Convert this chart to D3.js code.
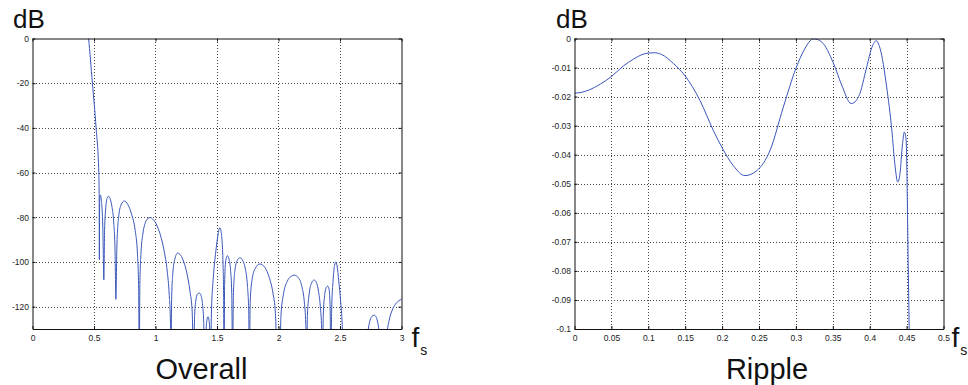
<!DOCTYPE html>
<html>
<head>
<meta charset="utf-8">
<script src="https://cdn.jsdelivr.net/npm/d3@7"></script>
<style>
  html, body { margin: 0; padding: 0; background: #fff; }
  svg { display: block; font-family: Arial, "Liberation Sans", sans-serif; }
</style>
</head>
<body>
<svg id="chart" width="968" height="385"></svg>
<script>
// ---------- DATA ----------
const overallXTicks = [0, 0.5, 1, 1.5, 2, 2.5, 3];
const overallYTicks = [0, -20, -40, -60, -80, -100, -120];
const overallF = [
  0.440, 0.456, 0.487, 0.517, 0.539, 0.542, 0.5435, 0.546, 0.552, 0.559, 0.572, 0.580, 0.586, 0.596,
  0.607, 0.618, 0.630, 0.645, 0.660, 0.671, 0.678, 0.686, 0.700, 0.720, 0.746, 0.775, 0.805, 0.835,
  0.853, 0.863, 0.868, 0.873, 0.882, 0.897, 0.917, 0.937, 0.957, 0.980, 1.010, 1.040, 1.070, 1.095,
  1.112, 1.122, 1.126, 1.131, 1.141, 1.157, 1.180, 1.205, 1.230, 1.255, 1.280, 1.298, 1.310, 1.318,
  1.330, 1.343, 1.356, 1.370, 1.383, 1.392, 1.397, 1.405, 1.412, 1.420, 1.427, 1.435, 1.442, 1.446,
  1.455, 1.470, 1.490, 1.505, 1.517, 1.524, 1.532, 1.541, 1.549, 1.554, 1.557, 1.562, 1.570, 1.584,
  1.598, 1.610, 1.620, 1.627, 1.633, 1.645, 1.665, 1.687, 1.710, 1.730, 1.748, 1.758, 1.763, 1.770,
  1.785, 1.810, 1.849, 1.890, 1.925, 1.955, 1.975, 1.990, 2.010, 2.020, 2.040, 2.070, 2.100, 2.128,
  2.160, 2.190, 2.210, 2.222, 2.229, 2.235, 2.250, 2.268, 2.290, 2.308, 2.325, 2.340, 2.351, 2.358,
  2.364, 2.375, 2.388, 2.400, 2.410, 2.419, 2.426, 2.432, 2.444, 2.456, 2.466, 2.476, 2.490, 2.505,
  2.518, 2.528, 2.700, 2.716, 2.730, 2.745, 2.760, 2.778, 2.795, 2.810, 2.825, 2.845, 2.865, 2.880,
  2.900, 2.925, 2.950, 2.975, 3.000
];
const overallDb = [
  8, 0, -20, -40, -60, -70, -99, -73, -70, -72, -85, -108, -86, -75.5,
  -71.5, -70.6, -71.5, -75, -82, -95, -116.7, -93, -80, -74.5, -72.7, -74.3, -78.5, -86,
  -96, -112, -145, -110, -96, -87.5, -82.5, -80.6, -80.1, -81, -83.5, -88, -95, -104,
  -115, -128, -145, -117, -105, -98.8, -96, -97, -100, -105, -113, -122, -145, -124,
  -116.5, -114.2, -113.9, -115, -119.5, -127, -145, -145, -130, -125.5, -124.5, -126, -132, -145,
  -122, -107, -95.5, -89, -85.3, -84.7, -86, -90.5, -101, -116, -145, -110, -100, -97.2,
  -98.8, -103.5, -114, -145, -115, -104, -99.3, -98.1, -99.5, -103, -111, -122, -145, -118,
  -108, -103, -100.9, -102.5, -107, -114, -123, -145, -145, -124, -114.5, -108.8, -106.5, -105.9,
  -107, -111, -118, -128, -145, -124, -114, -109.5, -108.1, -109.2, -113, -120, -130, -145,
  -124, -115, -111.5, -110.8, -112, -119, -145, -122, -108, -101.5, -100, -101.8, -108.5, -117.5,
  -128, -145, -145, -137, -130, -126, -124.3, -123.8, -124.8, -128, -134, -145, -145, -133,
  -126, -121.5, -119, -117.5, -116.7
];

const rippleXTicks = [0, 0.05, 0.1, 0.15, 0.2, 0.25, 0.3, 0.35, 0.4, 0.45, 0.5];
const rippleYTicks = [0, -0.01, -0.02, -0.03, -0.04, -0.05, -0.06, -0.07, -0.08, -0.09, -0.1];
const rippleF = [
  0, 0.010, 0.020, 0.035, 0.050, 0.066, 0.080, 0.090, 0.100, 0.108, 0.118, 0.134, 0.149, 0.170,
  0.188, 0.200, 0.215, 0.231, 0.247, 0.265, 0.283, 0.300, 0.311, 0.324, 0.335, 0.351, 0.362, 0.375,
  0.385, 0.396, 0.403, 0.409, 0.414, 0.423, 0.430, 0.434, 0.438, 0.441, 0.4445, 0.447, 0.4494, 0.451,
  0.452, 0.4535, 0.454
];
const rippleDb = [
  -0.0188, -0.0185, -0.0177, -0.0157, -0.0131, -0.0095, -0.0071, -0.0057, -0.0050, -0.0049, -0.0055,
  -0.0086, -0.0126, -0.0213, -0.0316, -0.0376, -0.0437, -0.0472, -0.0455, -0.0385, -0.0236, -0.0103,
  -0.0040, -0.0001, -0.0012, -0.0086, -0.0160, -0.0224, -0.0200, -0.0098, -0.0030, -0.0008, -0.0034,
  -0.0167, -0.0316, -0.0430, -0.0494, -0.0466, -0.0362, -0.0322, -0.0350, -0.0560, -0.0750, -0.1000,
  -0.1100
];

// ---------- DRAW ----------
const svg = d3.select("#chart");
const lineColor = "#3a56b8";
const FONT_TICK = 8.5;

function panel(opts) {
  const { id, x0, x1, y0, y1, xDomain, yDomain, xTicks, yTicks, fx, fy, curve, title, titleX, dbX, fX } = opts;
  const x = d3.scaleLinear().domain(xDomain).range([x0, x1]);
  const y = d3.scaleLinear().domain(yDomain).range([y1, y0]);
  const g = svg.append("g");

  svg.append("clipPath").attr("id", id).append("rect")
    .attr("x", x0).attr("y", y0).attr("width", x1 - x0).attr("height", y1 - y0);

  // grid
  const grid = g.append("g").attr("stroke", "#444").attr("stroke-width", 1)
    .attr("stroke-dasharray", "1,2").attr("shape-rendering", "crispEdges");
  xTicks.forEach(t => {
    if (t === xDomain[0] || t === xDomain[1]) return;
    const px = Math.round(x(t)) + 0.5;
    grid.append("line").attr("x1", px).attr("x2", px).attr("y1", y0).attr("y2", y1);
  });
  yTicks.forEach(t => {
    if (t === yDomain[0] || t === yDomain[1]) return;
    const py = Math.round(y(t)) + 0.5;
    grid.append("line").attr("x1", x0).attr("x2", x1).attr("y1", py).attr("y2", py);
  });

  // curve
  const pts = fx.map((f, i) => [f, fy[i]]);
  g.append("path")
    .datum(pts)
    .attr("clip-path", `url(#${id})`)
    .attr("fill", "none")
    .attr("stroke", lineColor)
    .attr("stroke-width", 1)
    .attr("d", d3.line().x(d => x(d[0])).y(d => y(d[1])).curve(curve));

  // axes (box with inward ticks)
  const axB = d3.axisBottom(x).tickValues(xTicks).tickSizeInner(-3).tickSizeOuter(0).tickPadding(6)
    .tickFormat(d => String(d));
  const axL = d3.axisLeft(y).tickValues(yTicks).tickSizeInner(-3).tickSizeOuter(0).tickPadding(6)
    .tickFormat(d => String(d));
  const axT = d3.axisTop(x).tickValues(xTicks).tickSizeInner(-3).tickSizeOuter(0).tickFormat("");
  const axR = d3.axisRight(y).tickValues(yTicks).tickSizeInner(-3).tickSizeOuter(0).tickFormat("");

  [[axB, `translate(0,${y1})`, "b"], [axL, `translate(${x0},0)`, "l"], [axT, `translate(0,${y0})`, "t"], [axR, `translate(${x1},0)`, "r"]]
    .forEach(([ax, tr, side]) => {
      const a = g.append("g").attr("transform", tr).call(ax);
      a.select(".domain").attr("stroke", "#111").attr("stroke-width", 1);
      a.selectAll(".tick line").attr("stroke", "#111");
      a.selectAll("text").attr("fill", "#222").attr("font-size", FONT_TICK)
        .attr("font-family", "Arial, 'Liberation Sans', sans-serif");
      if (side === "l") a.selectAll(".tick text").attr("x", -3.5);
    });

  // labels
  g.append("text").attr("x", dbX).attr("y", 28).attr("font-size", 26).attr("fill", "#111").text("dB");
  const fs = g.append("text").attr("x", fX).attr("y", 346.5).attr("font-size", 28).attr("fill", "#111");
  fs.append("tspan").text("f");
  fs.append("tspan").attr("font-size", 14).attr("dy", 8).attr("dx", 1).text("s");
  g.append("text").attr("x", titleX).attr("y", 379).attr("text-anchor", "middle")
    .attr("font-size", 29).attr("fill", "#111").text(title);
}

panel({
  id: "clipL", x0: 32.5, x1: 401.5, y0: 38.5, y1: 329,
  xDomain: [0, 3], yDomain: [-130, 0], xTicks: overallXTicks, yTicks: overallYTicks,
  fx: overallF, fy: overallDb, curve: d3.curveMonotoneX,
  title: "Overall", titleX: 201.5, dbX: 13, fX: 411.5
});
panel({
  id: "clipR", x0: 574.5, x1: 943.5, y0: 38.5, y1: 329,
  xDomain: [0, 0.5], yDomain: [-0.1, 0], xTicks: rippleXTicks, yTicks: rippleYTicks,
  fx: rippleF, fy: rippleDb, curve: d3.curveMonotoneX,
  title: "Ripple", titleX: 767, dbX: 556, fX: 951.5
});
</script>
</body>
</html>
